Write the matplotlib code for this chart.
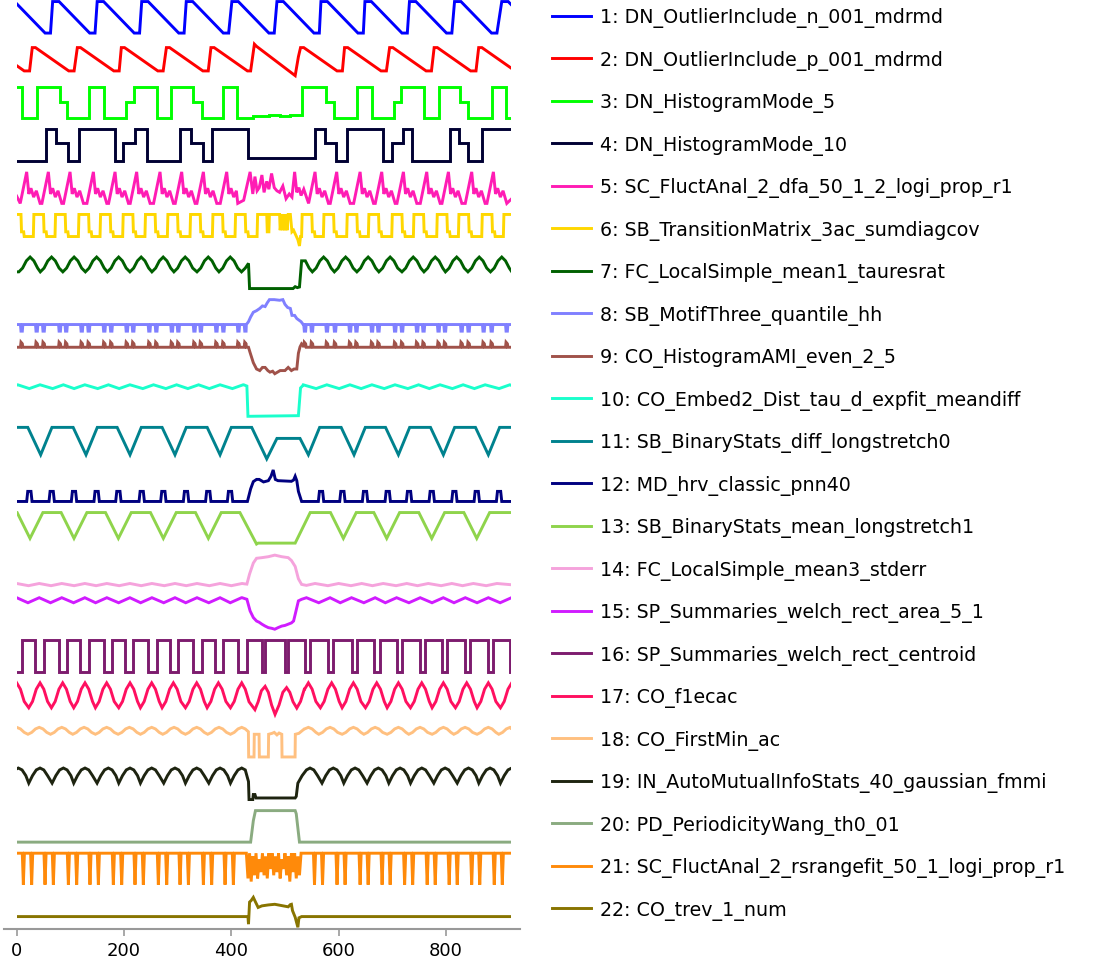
import numpy as np
import matplotlib
matplotlib.use("Agg")
import matplotlib.pyplot as plt
from matplotlib.patches import Rectangle

X_END = 922

labels = [
    "1: DN_OutlierInclude_n_001_mdrmd",
    "2: DN_OutlierInclude_p_001_mdrmd",
    "3: DN_HistogramMode_5",
    "4: DN_HistogramMode_10",
    "5: SC_FluctAnal_2_dfa_50_1_2_logi_prop_r1",
    "6: SB_TransitionMatrix_3ac_sumdiagcov",
    "7: FC_LocalSimple_mean1_tauresrat",
    "8: SB_MotifThree_quantile_hh",
    "9: CO_HistogramAMI_even_2_5",
    "10: CO_Embed2_Dist_tau_d_expfit_meandiff",
    "11: SB_BinaryStats_diff_longstretch0",
    "12: MD_hrv_classic_pnn40",
    "13: SB_BinaryStats_mean_longstretch1",
    "14: FC_LocalSimple_mean3_stderr",
    "15: SP_Summaries_welch_rect_area_5_1",
    "16: SP_Summaries_welch_rect_centroid",
    "17: CO_f1ecac",
    "18: CO_FirstMin_ac",
    "19: IN_AutoMutualInfoStats_40_gaussian_fmmi",
    "20: PD_PeriodicityWang_th0_01",
    "21: SC_FluctAnal_2_rsrangefit_50_1_logi_prop_r1",
    "22: CO_trev_1_num",
]

colors = ["#0000ff", "#ff0000", "#00ff00", "#000033", "#ff1cb4", "#ffd700",
          "#006000", "#8080ff", "#a0524a", "#1affcc", "#00828e", "#000080",
          "#8fd44c", "#f5a3dc", "#d01cff", "#7d1c6e", "#ff1060", "#ffc080",
          "#1e2410", "#8aab80", "#ff8a0a", "#887400"]

# ---- series 1 (sawtooth) ----
s1_tops = [-16, 67, 150, 233, 316, 401, 485, 567, 649, 732, 816, 904]
s1_tdx = [0, 12, 69, 79]
s1_tv = [1, 1, 0, 0]
# ---- series 2 ----
s2_tops = [-54, 29, 113, 195, 279, 362, 446, 529, 611, 695, 778, 861]
s2_tdx = [0, 6, 68, 78]
s2_tv = [0.89, 0.89, 0.15, 0.15]
s2_ox = [436, 443, 447, 519, 525]
s2_ov = [0.15, 1.0, 0.93, 0.0, 0.6]
# ---- series 3 (steps) ----
s3_x = [0, 9, 37, 80, 93, 135, 162, 204, 218, 261, 287, 328, 345, 385, 411,
        441, 470, 490, 510, 532, 576, 592, 635, 662, 703, 717, 760, 787, 826,
        842, 886, 911, 922]
s3_v = [1, 0, 1, 0.5, 0, 1, 0, 0.5, 1, 0, 1, 0.5, 0, 1, 0,
        0.06, 0.1, 0.07, 0.1, 1, 0.5, 0, 1, 0, 0.5, 1, 0, 1, 0.5,
        0, 1, 0, 0]
# ---- series 4 (steps) ----
s4_x = [0, 54, 73, 96, 116, 183, 199, 221, 242, 305, 324, 348, 364, 432, 556,
        575, 596, 616, 683, 699, 720, 736, 808, 824, 842, 868, 922]
s4_v = [0, 1, 0.55, 0, 1, 0, 0.55, 1, 0, 1, 0.55, 0, 1, 0.08, 1,
        0.55, 0, 1, 0, 0.55, 1, 0, 1, 0.55, 0, 1, 1]
# ---- series 5 ----
s5_peaks = [18.6, 59, 99.4, 142.9, 183.3, 223.6, 267.1, 307.5, 347.9, 391.4,
            556, 596.4, 640, 680.3, 720.7, 764.2, 804.6, 848, 888.4]
s5_tdx = [-12, 0, 4, 8, 13, 18, 25]
s5_tv = [0, 1, 0.3, 0.48, 0.2, 0.4, 0.0]
s5_ox = [412, 423, 435, 440, 444, 448, 452, 457, 461, 466, 470, 475, 480, 485,
         490, 496, 502, 508, 513, 518, 522, 526, 530, 535, 544]
s5_ov = [0, 0.1, 1.0, 0.3, 0.85, 0.4, 0.5, 0.9, 0.35, 0.7, 0.45, 0.95, 0.5, 0.4,
         0.35, 0.55, 0.15, 0.3, 0.2, 1.0, 0.35, 0.5, 0.25, 0.45, 0.0]
# ---- series 6 ----
s6_rises = [-11, 31, 71.4, 115, 155.3, 197.5, 239, 280.8, 323, 364.7, 406.9,
            531, 571.6, 615, 655.4, 699, 739.3, 782.8, 823.2, 866.7, 907]
s6_tdx = [0, 1, 19, 20, 24, 25, 40]
s6_tv = [0.3, 1, 1, 0.45, 0.45, 0.3, 0.3]
s6_ox = [440, 448, 449, 466, 467, 470, 471, 490, 491, 494, 496, 498, 500, 502,
         504, 506, 510, 513, 516, 520, 524, 527, 529, 530.5]
s6_ov = [0.3, 0.3, 1, 1, 0.45, 0.45, 1, 1, 0.5, 1, 0.5, 1, 0.5, 1,
         0.5, 1, 1, 0.45, 0.5, 0.35, 0.2, 0.0, 0.3, 0.3]
# ---- series 7 ----
s7_peaks = [25, 65, 107, 149, 190, 232, 273, 314, 357, 398,
            531, 572, 613, 655, 696, 739, 780, 820, 862, 904]
s7_tdx = [-21, -14, -7, 0, 7, 14]
s7_tv = [0.53, 0.65, 0.88, 1, 0.88, 0.65]
s7_ox = [419, 426, 432, 434, 515, 519, 523, 527, 531]
s7_ov = [0.53, 0.65, 0.8, 0.0, 0.0, 0.06, 0.03, 0.05, 0.88]
# ---- series 8 / 9 share event positions ----
s8_events = [9, 37, 50, 80, 92, 121, 134, 163, 176, 205, 217, 247, 260, 289,
             301, 331, 343, 372, 385, 413, 426,
             537, 550, 578, 593, 621, 633, 662, 674, 705, 718, 746, 758, 786,
             798, 829, 842, 870, 885, 913]
s8_tdx = [-2, -1, 1.5, 2.5]
s8_tv = [0.21, 0, 0, 0.21]
s8_ox = [428, 432, 436, 441, 447, 453, 458, 463, 467, 471, 480, 490, 496, 500,
         505, 510, 513, 518, 522, 526, 530, 534]
s8_ov = [0.21, 0.3, 0.45, 0.6, 0.65, 0.72, 0.8, 0.78, 0.9, 1.0, 1.0, 0.98, 1.0,
         0.85, 0.75, 0.72, 0.5, 0.5, 0.4, 0.35, 0.3, 0.21]
s9_tdx = [-2, -1, 1.5, 2.5]
s9_tv = [0.84, 1.0, 0.95, 0.84]
s9_ox = [428, 432, 435, 441, 447, 453, 458, 463, 468, 472, 477, 481, 486, 491,
         496, 500, 506, 512, 517, 522, 525, 528, 531, 534]
s9_ov = [0.84, 0.84, 0.67, 0.35, 0.15, 0.1, 0.2, 0.2, 0.1, 0.05, 0.08, 0.0,
         0.05, 0.1, 0.1, 0.1, 0.2, 0.1, 0.15, 0.15, 0.65, 0.85, 0.95, 0.9]
# ---- series 10 ----
s10_peaks = [2, 43.5, 87, 127, 171, 211, 255, 298, 339, 379, 422,
             534, 578, 621, 662, 705, 749, 789, 832, 873, 919]
s10_tdx = [-20, 0]
s10_tv = [0.88, 1.0]
s10_ox = [423, 429, 431, 525, 529, 533]
s10_ov = [1.0, 0.96, 0.0, 0.02, 0.9, 0.97]
# ---- series 11 ----
s11_vs = [44.7, 129.2, 211.2, 295, 379, 543.6, 628.7, 711.4, 795.2, 879]
s11_tdx = [-24, 0, 21]
s11_tv = [1, 0.13, 1]
s11_ox = [438, 466, 485, 528]
s11_ov = [1, 0.0, 0.65, 0.65]
# ---- series 12 ----
s12_bumps = [23.6, 65.2, 106.8, 149, 189.5, 233, 273.3, 315.6, 357, 397.6,
             567.2, 607, 649.2, 691.5, 731.2, 773.5, 815.7, 857.4, 899]
s12_tdx = [-5, -3, 3, 5]
s12_tv = [0, 0.32, 0.32, 0]
s12_ox = [430, 436, 441, 447, 452, 460, 469, 474, 478, 482, 487, 512, 516, 519,
          522, 525, 531]
s12_ov = [0, 0.4, 0.63, 0.7, 0.7, 0.62, 0.66, 0.8, 1.0, 0.7, 0.66, 0.64, 0.68,
          0.8, 0.66, 0.32, 0.0]
# ---- series 13 ----
s13_vs = [24.8, 106.8, 189.5, 273.3, 357.2, 608.8, 689.6, 773.5, 857.4]
s13_tdx = [-24, 0, 24]
s13_tv = [1, 0.18, 1]
s13_ox = [416, 447, 450, 519, 547]
s13_ov = [1, 0.0, 0.03, 0.03, 1]
# ---- series 14 ----
s14_peaks = [0, 42, 84, 127, 168, 211, 252, 295, 336, 379, 420,
             556, 600, 643, 683, 727, 767, 811, 851, 895]
s14_tdx = [-20, 0]
s14_tv = [0.03, 0.1]
s14_ox = [424, 429, 434, 441, 447, 457, 469, 481, 494, 506, 512, 519, 525, 531, 540]
s14_ov = [0.09, 0.08, 0.4, 0.75, 0.9, 0.92, 0.95, 1.0, 0.95, 0.92, 0.83, 0.64,
          0.25, 0.07, 0.04]
# ---- series 15 ----
s15_peaks = [0, 42, 84, 127, 168, 211, 252, 295, 336, 379, 419,
             540, 584, 624, 668, 708, 752, 795, 836, 879, 922]
s15_tdx = [-21, 0]
s15_tv = [0.84, 1]
s15_ox = [420, 429, 435, 441, 447, 452, 457, 463, 469, 475, 481, 487, 494, 500,
          506, 512, 516, 519, 525, 531]
s15_ov = [1, 0.95, 0.58, 0.37, 0.26, 0.22, 0.16, 0.1, 0.05, 0.03, 0.0, 0.05,
          0.1, 0.12, 0.16, 0.2, 0.26, 0.47, 0.9, 0.95]
# ---- series 16 (steps) ----
s16_x = [0, 9, 34, 50, 78, 93, 118, 134, 162, 177, 202, 217, 245, 261, 286,
         301, 329, 345, 370, 385, 413, 429, 457, 463, 500, 506, 537, 547, 581,
         590, 624, 634, 665, 677, 708, 718, 752, 761, 792, 802, 836, 845, 879,
         888, 920, 922]
s16_v = [0, 1, 0, 1, 0, 1, 0, 1, 0, 1, 0, 1, 0, 1, 0,
         1, 0, 1, 0, 1, 0, 1, 0, 1, 0, 1, 0, 1, 0,
         1, 0, 1, 0, 1, 0, 1, 0, 1, 0, 1, 0, 1, 0,
         1, 0, 0]
# ---- series 17 ----
s17_peaks = [0, 43.5, 85.7, 127.3, 167.7, 211.2, 251.6, 292, 335.5, 375.9, 419.4,
             543.6, 587, 627.5, 671, 711.4, 754.9, 795.2, 838.7, 879, 922.6]
s17_tdx = [-21, -14, -7, 0, 7, 14]
s17_tv = [0.21, 0.41, 0.80, 1.0, 0.80, 0.41]
s17_ox = [426, 433, 444, 450, 456, 463, 469, 475, 481.5, 489, 496, 503, 509,
          515, 522, 529, 536]
s17_ov = [0.80, 0.40, 0.15, 0.4, 0.75, 0.89, 0.7, 0.3, 0.0, 0.3, 0.7, 0.85,
          0.7, 0.4, 0.2, 0.41, 0.80]
# ---- series 18 ----
s18_peaks = [0, 42, 84, 125.5, 167.7, 210, 251.6, 293.2, 335.5, 377, 419.4,
             543.6, 584, 627.5, 668, 711.4, 751.7, 795.2, 835.6, 879, 919.5]
s18_tdx = [-21, -14, -7, 0, 7, 14]
s18_tv = [0.72, 0.78, 0.89, 0.94, 0.89, 0.78]
s18_ox = [426, 431.8, 432.3, 442.3, 442.8, 451.7, 452.2, 469, 469.5, 476, 480,
          485, 489, 494, 494.5, 518.8, 519.3, 526, 536]
s18_ov = [0.89, 0.8, 0, 0, 0.72, 0.72, 0, 0, 0.72, 0.75, 0.78, 0.7, 0.76, 0.72,
          0, 0, 0.72, 0.75, 0.89]
# ---- series 19 ----
s19_peaks = [3, 43.5, 87, 127.3, 170.8, 211.2, 251.6, 295, 335.5, 379, 419.4,
             546.7, 590, 630.6, 674, 714.5, 755, 798.4, 842, 882.2, 922.6]
s19_tdx = [-21, -14, -7, 0, 7, 14]
s19_tv = [0.52, 0.76, 0.94, 1.0, 0.94, 0.76]
s19_ox = [426, 432, 433, 437, 440, 441, 444, 446, 450, 519, 521, 524, 532, 540]
s19_ov = [0.94, 0.57, 0.0, 0.0, 0.0, 0.16, 0.16, 0.05, 0.05, 0.05, 0.1, 0.52,
          0.76, 0.94]
# ---- series 20 ----
s20_x = [0, 436, 441, 445, 519, 521, 527, 922]
s20_v = [0, 0, 0.68, 1, 1, 0.9, 0, 0]
# ---- series 21 ----
s21_dips = [12.4, 27.9, 52.8, 68.3, 96.3, 111.8, 136.6, 152.2, 180.1, 195.7,
            220.5, 236, 264, 279.6, 304.4, 320, 347.9, 363.4, 388.3, 403.8,
            555, 570, 597, 612, 640, 655, 681, 696, 723, 738, 765, 780, 806,
            821, 848, 863, 890, 905]
s21_tdx = [-2, 0, 2]
s21_tv = [1, 0.0, 1]
s21_ox = [428, 431, 434, 437, 440, 443, 446, 449, 452, 455, 458, 461, 464, 467,
          470, 473, 476, 479, 482, 485, 488, 491, 494, 497, 500, 503, 506, 509,
          512, 515, 518, 521, 524, 527, 530]
s21_ov = [1, 0.2, 1, 0.1, 0.9, 0.3, 1, 0.2, 0.8, 0.4, 1, 0.3, 0.9, 0.2, 1,
          0.5, 1, 0.3, 0.9, 0.4, 1, 0.2, 0.8, 0.5, 1, 0.3, 0.9, 0.1, 1, 0.4,
          1, 0.2, 0.9, 0.3, 1]
# ---- series 22 ----
s22_x = [0, 431, 432, 434, 437, 441, 444, 450, 457, 469, 481, 506, 510, 512,
         514, 519, 524, 526, 531, 922]
s22_v = [0.34, 0.34, 0.1, 0.8, 0.85, 0.95, 0.84, 0.63, 0.68, 0.71, 0.73, 0.65,
         0.72, 0.73, 0.53, 0.32, 0.0, 0.3, 0.34, 0.34]


def build(anchors, tdx, tv, ox=(), ov=(), head=None, tail=None):
    pts = [(a + d, v) for a in anchors for d, v in zip(tdx, tv)]
    if len(ox):
        lo, hi = ox[0], ox[-1]
        pts = ([p for p in pts if p[0] < lo] + list(zip(ox, ov))
               + [p for p in pts if p[0] > hi])
    if head is not None:
        pts = [(0, head)] + pts
    if tail is not None:
        pts = pts + [(X_END, tail)]
    x, v = zip(*pts)
    return np.array(x, float), np.array(v, float)


series = [
    build(s1_tops, s1_tdx, s1_tv),
    build(s2_tops, s2_tdx, s2_tv, s2_ox, s2_ov),
    (np.array(s3_x, float), np.array(s3_v, float), "steps"),
    (np.array(s4_x, float), np.array(s4_v, float), "steps"),
    build(s5_peaks, s5_tdx, s5_tv, s5_ox, s5_ov, head=0.23, tail=0.14),
    build(s6_rises, s6_tdx, s6_tv, s6_ox, s6_ov),
    build(s7_peaks, s7_tdx, s7_tv, s7_ox, s7_ov, head=0.53, tail=0.55),
    build(s8_events, s8_tdx, s8_tv, s8_ox, s8_ov, head=0.21, tail=0.21),
    build(s8_events, s9_tdx, s9_tv, s9_ox, s9_ov, head=0.84, tail=0.84),
    build(s10_peaks, s10_tdx, s10_tv, s10_ox, s10_ov, tail=0.98),
    build(s11_vs, s11_tdx, s11_tv, s11_ox, s11_ov, head=1, tail=1),
    build(s12_bumps, s12_tdx, s12_tv, s12_ox, s12_ov, head=0, tail=0),
    build(s13_vs, s13_tdx, s13_tv, s13_ox, s13_ov, head=1, tail=1),
    build(s14_peaks, s14_tdx, s14_tv, s14_ox, s14_ov, tail=0.06),
    build(s15_peaks, s15_tdx, s15_tv, s15_ox, s15_ov),
    (np.array(s16_x, float), np.array(s16_v, float), "steps"),
    build(s17_peaks, s17_tdx, s17_tv, s17_ox, s17_ov),
    build(s18_peaks, s18_tdx, s18_tv, s18_ox, s18_ov, tail=0.9),
    build(s19_peaks, s19_tdx, s19_tv, s19_ox, s19_ov),
    (np.array(s20_x, float), np.array(s20_v, float)),
    build(s21_dips, s21_tdx, s21_tv, s21_ox, s21_ov, head=1, tail=1),
    (np.array(s22_x, float), np.array(s22_v, float)),
]

SCALE = 0.74
fig = plt.figure(figsize=(10.98, 9.70), dpi=100)
ax = fig.add_axes([4.3 / 1098, 40 / 970, (520 - 4.3) / 1098, 930 / 970])

for i, s in enumerate(series):
    x, v = s[0], s[1]
    ds = "steps-post" if len(s) == 3 else "default"
    line, = ax.plot(x, -i + SCALE * v, color=colors[i], lw=2.1,
                    drawstyle=ds, label=labels[i], solid_joinstyle="miter")
    clip = Rectangle((0, -30), X_END, 40, transform=ax.transData)
    line.set_clip_path(clip)

ax.set_xlim(-23.1, 938)
ax.set_ylim(-21.04, 0.80)
for sp in ["left", "right", "top"]:
    ax.spines[sp].set_visible(False)
ax.spines["bottom"].set_color("#999999")
ax.spines["bottom"].set_linewidth(1.5)
ax.set_yticks([])
ax.set_xticks([0, 200, 400, 600, 800])
ax.tick_params(axis="x", colors="#999999", labelcolor="black", labelsize=13,
               length=5, width=1.2)

ax.legend(loc="upper left", bbox_to_anchor=(552 / 1098, 1 - 8.5 / 970),
          bbox_transform=fig.transFigure, frameon=False, fontsize=13.7,
          labelspacing=1.182, borderpad=0, borderaxespad=0,
          handlelength=2.05, handletextpad=0.45)

fig.savefig("out.png", dpi=100)
